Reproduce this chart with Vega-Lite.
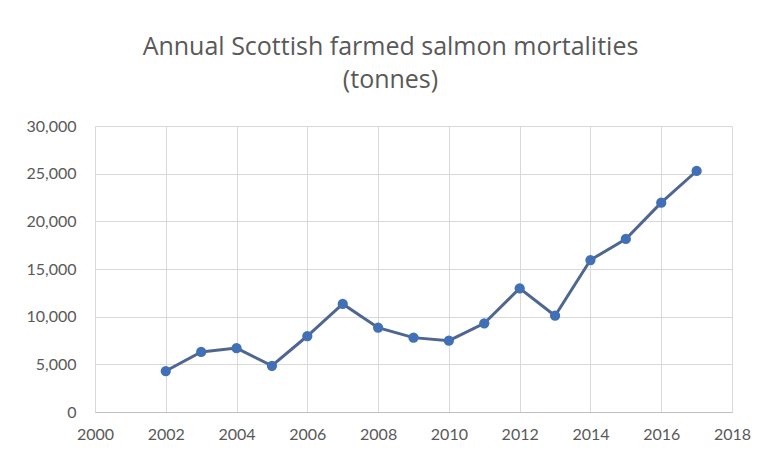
{
  "$schema": "https://vega.github.io/schema/vega-lite/v6.json",
  "width": 637,
  "height": 286,
  "autosize": "none",
  "padding": {"left": 95, "top": 126, "right": 37, "bottom": 45},
  "background": "white",
  "title": {
    "text": ["Annual Scottish farmed salmon mortalities", "(tonnes)"],
    "font": "Open Sans",
    "fontSize": 25,
    "fontWeight": "normal",
    "color": "#595959",
    "lineHeight": 33,
    "anchor": "middle",
    "frame": "group",
    "dx": -23,
    "offset": 25
  },
  "data": {
    "values": [
      {"year": 2002, "tonnes": 4300},
      {"year": 2003, "tonnes": 6300},
      {"year": 2004, "tonnes": 6700},
      {"year": 2005, "tonnes": 4850},
      {"year": 2006, "tonnes": 7970},
      {"year": 2007, "tonnes": 11330},
      {"year": 2008, "tonnes": 8840},
      {"year": 2009, "tonnes": 7800},
      {"year": 2010, "tonnes": 7480},
      {"year": 2011, "tonnes": 9300},
      {"year": 2012, "tonnes": 12980},
      {"year": 2013, "tonnes": 10100},
      {"year": 2014, "tonnes": 15940},
      {"year": 2015, "tonnes": 18150},
      {"year": 2016, "tonnes": 21960},
      {"year": 2017, "tonnes": 25280}
    ]
  },
  "config": {
    "view": {"stroke": null},
    "axis": {
      "labelFont": "Lato",
      "labelFontSize": 16,
      "labelColor": "#595959",
      "gridColor": "#d9d9d9",
      "gridWidth": 1,
      "ticks": false,
      "title": null
    }
  },
  "mark": {
    "type": "line",
    "color": "#4f6790",
    "strokeWidth": 3,
    "point": {"filled": true, "size": 105, "color": "#4170b6", "opacity": 1}
  },
  "encoding": {
    "x": {
      "field": "year",
      "type": "quantitative",
      "scale": {"domain": [2000, 2018], "nice": false, "zero": false},
      "axis": {
        "values": [2000, 2002, 2004, 2006, 2008, 2010, 2012, 2014, 2016, 2018],
        "format": "d",
        "labelPadding": 14,
        "domainColor": "#bfbfbf",
        "labelFlush": false
      }
    },
    "y": {
      "field": "tonnes",
      "type": "quantitative",
      "scale": {"domain": [0, 30000], "nice": false},
      "axis": {
        "values": [0, 5000, 10000, 15000, 20000, 25000, 30000],
        "format": ",d",
        "labelPadding": 19,
        "domain": false
      }
    }
  }
}
